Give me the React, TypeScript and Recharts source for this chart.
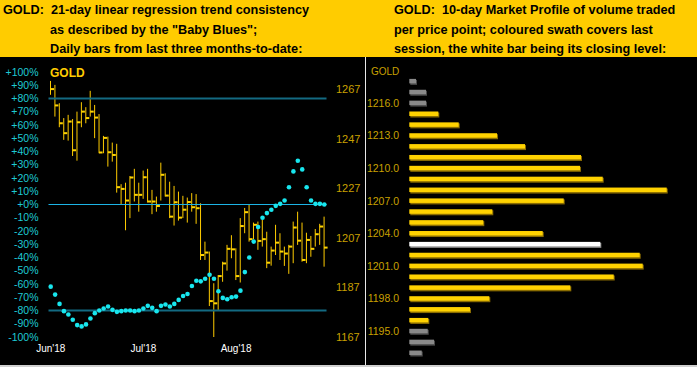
import React from "react";
import { ComposedChart, BarChart, Bar, Line, XAxis, YAxis, ReferenceLine } from "recharts";

// left panel: daily bars (price) + "Baby Blues" (percent)
const monthTicks = [0, 21, 42];
const monthLabels = ["Jun'18", "Jul'18", "Aug'18"];

const highs = [
  1270.4, 1268.8, 1261.4, 1255.4, 1256.7, 1255.0, 1258.0, 1261.8, 1259.8, 1266.4,
  1260.7, 1257.0, 1248.2, 1247.9, 1245.5, 1245.0, 1228.7, 1229.3, 1232.0, 1234.9,
  1229.3, 1234.2, 1234.9, 1226.4, 1223.7, 1237.4, 1233.1, 1229.7, 1228.0, 1225.7,
  1224.0, 1223.3, 1225.1, 1224.7, 1221.0, 1205.5, 1201.5, 1188.7, 1192.0, 1197.4,
  1204.2, 1208.1, 1202.8, 1215.0, 1219.1, 1220.3, 1213.2, 1213.6, 1214.3, 1209.5,
  1203.5, 1212.3, 1208.9, 1203.5, 1204.2, 1213.6, 1217.6, 1213.2, 1209.1, 1207.8,
  1210.6, 1212.7, 1215.6,
];
const lows = [
  1264.8, 1256.0, 1251.7, 1246.6, 1246.3, 1240.1, 1238.2, 1251.7, 1253.3, 1256.0,
  1247.3, 1241.2, 1241.2, 1235.8, 1237.8, 1225.3, 1220.6, 1210.1, 1215.0, 1221.7,
  1217.6, 1222.8, 1221.3, 1216.6, 1217.6, 1222.1, 1223.7, 1215.0, 1212.0, 1214.0,
  1215.0, 1213.2, 1217.6, 1212.7, 1198.1, 1198.1, 1179.5, 1166.8, 1177.9, 1189.3,
  1193.8, 1198.8, 1190.0, 1189.0, 1208.9, 1205.5, 1206.5, 1202.2, 1203.5, 1194.8,
  1195.8, 1200.1, 1198.1, 1195.7, 1192.5, 1196.8, 1204.2, 1197.4, 1196.8, 1199.4,
  1203.5, 1204.2, 1195.4,
];
const closes = [
  1267.1, 1260.5, 1253.3, 1249.3, 1254.0, 1242.4, 1253.7, 1258.0, 1255.4, 1258.0,
  1255.6, 1241.5, 1247.4, 1241.6, 1240.5, 1227.5, 1226.8, 1222.1, 1231.4, 1224.4,
  1224.4, 1231.5, 1221.7, 1221.7, 1219.9, 1232.5, 1224.1, 1215.6, 1221.4, 1215.2,
  1218.4, 1221.5, 1219.4, 1219.0, 1200.1, 1201.1, 1181.5, 1180.6, 1191.6, 1196.7,
  1202.6, 1202.4, 1191.6, 1211.8, 1217.4, 1206.5, 1212.3, 1205.8, 1206.5, 1197.0,
  1201.9, 1205.1, 1201.5, 1200.7, 1203.5, 1211.2, 1205.9, 1198.1, 1206.2, 1202.6,
  1208.5, 1211.6, 1203.1,
];
const blues = [
  -62, -68, -75, -80.5, -83, -87, -91, -92, -90.5, -86,
  -82, -80, -78.5, -77, -79.5, -81, -80.5, -80, -80, -80.5,
  -80, -78.5, -76.5, -78, -80.5, -76.5, -75.5, -77, -75, -72,
  -69, -67.5, -61.5, -57.5, -58, -56, -53, -56, -65.5, -70.5,
  -71.5, -70, -69.5, -65, -51, -40, -28, -17, -10, -6.5,
  -4, -1, 0.5, 3, 13, 25, 33, 26.5, 13, 3,
  0.5, 0.5, 0,
];
const pctTicks = [100, 90, 80, 70, 60, 50, 40, 30, 20, 10, 0, -10, -20, -30, -40, -50, -60, -70, -80, -90, -100];
const priceTicks = [1167, 1187, 1207, 1227, 1247, 1267];

// right panel: 10-day market profile
const profilePrices = [
  1218, 1217, 1216, 1215, 1214, 1213, 1212, 1211, 1210, 1209, 1208, 1207, 1206,
  1205, 1204, 1203, 1202, 1201, 1200, 1199, 1198, 1197, 1196, 1195, 1194, 1193,
];
const profileVolume = [
  6.7, 16.7, 16.7, 29, 49.4, 87.7, 115.7, 171.7, 170.7, 193.4, 257.4, 154.4, 83,
  74, 133.4, 191, 230.4, 233.4, 204.4, 161, 80, 60.7, 19, 18.4, 24.7, 12.4,
];
const profileLabels = [1216, 1213, 1210, 1207, 1204, 1201, 1198, 1195];
const swathHigh = 1215;
const swathLow = 1196;
const closeLevel = 1203;

const font = '"Liberation Sans", Arial, sans-serif';

const dailyData = highs.map((h, i) => ({
  day: i,
  range: [lows[i], h],
  close: closes[i],
  pct: blues[i],
}));

const profileData = profilePrices.map((p, i) => ({ price: p, vol: profileVolume[i] }));

function OhlcBar(props: any) {
  const { x, y, width, height, payload } = props;
  const [lo, hi] = payload.range;
  const top = Math.min(y, y + height);
  const bot = Math.max(y, y + height);
  const cx = x + width / 2;
  const yc = top + ((hi - payload.close) / (hi - lo)) * (bot - top);
  return (
    <g>
      <line x1={cx} x2={cx} y1={top} y2={bot} stroke="#ffcc00" strokeWidth={1} />
      <rect x={cx} y={yc - 1} width={3.5} height={2} fill="#ffd400" />
    </g>
  );
}

function ProfileBar(props: any) {
  const { x, y, width, height, payload } = props;
  let fill = "#ffd200";
  let edge = "#8a6c00";
  if (payload.price === closeLevel) {
    fill = "#ffffff";
    edge = "#8c8c8c";
  } else if (payload.price > swathHigh || payload.price < swathLow) {
    fill = "#8a8a8a";
    edge = "#4a4a4a";
  }
  return (
    <g>
      <rect x={x + 1} y={y + 1} width={width} height={height} fill={edge} />
      <rect x={x} y={y} width={width} height={height - 0.5} fill={fill} />
    </g>
  );
}

const fmtPct = (v: number) => (v >= 0 ? `+${v}%` : `${v}%`);

export default function App() {
  return (
    <div
      style={{
        position: "absolute",
        left: 0,
        top: 0,
        width: 697,
        height: 367,
        background: "#000",
        overflow: "hidden",
        fontFamily: font,
      }}
    >
      <div style={{ position: "absolute", left: 0, top: 0, width: 697, height: 57, background: "#ffcc00" }} />
      <svg style={{ position: "absolute", left: 0, top: 0 }} width={697} height={57}>
        <g fontFamily={font} fontWeight="bold" fontSize={12.7} fill="#000">
          <text x={3} y={14}>{"GOLD:\u00a0 21-day linear regression trend consistency"}</text>
          <text x={50} y={33.5}>as described by the "Baby Blues";</text>
          <text x={50} y={53}>Daily bars from last three months-to-date:</text>
          <text x={394} y={14}>{"GOLD:\u00a0 10-day Market Profile of volume traded"}</text>
          <text x={394} y={33.5}>per price point; coloured swath covers last</text>
          <text x={394} y={53}>session, the white bar being its closing level:</text>
        </g>
      </svg>
      <div style={{ position: "absolute", left: 365, top: 57, width: 1, height: 310, background: "#e8e8e8" }} />
      <div style={{ position: "absolute", left: 0, top: 365, width: 697, height: 2, background: "#d0d0d0" }} />

      <div style={{ position: "absolute", left: 0, top: 58 }}>
        <ComposedChart
          width={362}
          height={309}
          data={dailyData}
          margin={{ top: 14, right: 0, bottom: 10, left: 0 }}
        >
          <XAxis
            dataKey="day"
            ticks={monthTicks}
            interval={0}
            tickFormatter={(v: number) => monthLabels[monthTicks.indexOf(v)]}
            axisLine={false}
            tickLine={false}
            height={20}
            tick={{ fill: "#ffffff", fontSize: 10, fontFamily: font }}
          />
          <YAxis
            yAxisId="pct"
            orientation="left"
            domain={[-100, 100]}
            ticks={pctTicks}
            interval={0}
            allowDataOverflow
            width={48.5}
            axisLine={false}
            tickLine={false}
            tickMargin={4}
            tickFormatter={fmtPct}
            tick={{ fill: "#1ecad4", fontSize: 10.5, fontFamily: font }}
          />
          <YAxis
            yAxisId="price"
            orientation="right"
            domain={[1167, 1274]}
            ticks={priceTicks}
            interval={0}
            allowDataOverflow
            width={35.5}
            axisLine={false}
            tickLine={false}
            tickMargin={3.5}
            tick={{ fill: "#c9a100", fontSize: 11, fontFamily: font }}
          />
          <ReferenceLine yAxisId="pct" y={80} stroke="#136a82" strokeWidth={2} />
          <ReferenceLine yAxisId="pct" y={-80} stroke="#136a82" strokeWidth={2} />
          <ReferenceLine yAxisId="pct" y={0} stroke="#1cb4e6" strokeWidth={1} />
          <Bar yAxisId="price" dataKey="range" barSize={2} shape={OhlcBar} isAnimationActive={false} />
          <Line
            yAxisId="pct"
            dataKey="pct"
            stroke="none"
            dot={{ r: 2.3, fill: "#18e6ee", stroke: "none" }}
            activeDot={false}
            isAnimationActive={false}
          />
        </ComposedChart>
      </div>

      <div style={{ position: "absolute", left: 365, top: 58 }}>
        <BarChart
          layout="vertical"
          width={332}
          height={309}
          data={profileData}
          margin={{ top: 17.9, right: 7.7, bottom: 8.6, left: 0 }}
        >
          <XAxis type="number" domain={[0, 280]} hide />
          <YAxis
            type="category"
            dataKey="price"
            width={44.3}
            ticks={profileLabels}
            interval={0}
            axisLine={false}
            tickLine={false}
            tickMargin={4.3}
            tickFormatter={(v: number) => Number(v).toFixed(1)}
            tick={{ fill: "#c9a100", fontSize: 10.5, fontFamily: font }}
          />
          <Bar dataKey="vol" barSize={5} shape={ProfileBar} isAnimationActive={false} />
        </BarChart>
      </div>

      <svg style={{ position: "absolute", left: 0, top: 0, pointerEvents: "none" }} width={697} height={367}>
        <text x={50} y={76.7} fontFamily={font} fontWeight="bold" fontSize={12} fill="#ffcc00">GOLD</text>
        <text x={371} y={74.5} fontFamily={font} fontSize={10} fill="#c9a100">GOLD</text>
      </svg>
    </div>
  );
}
